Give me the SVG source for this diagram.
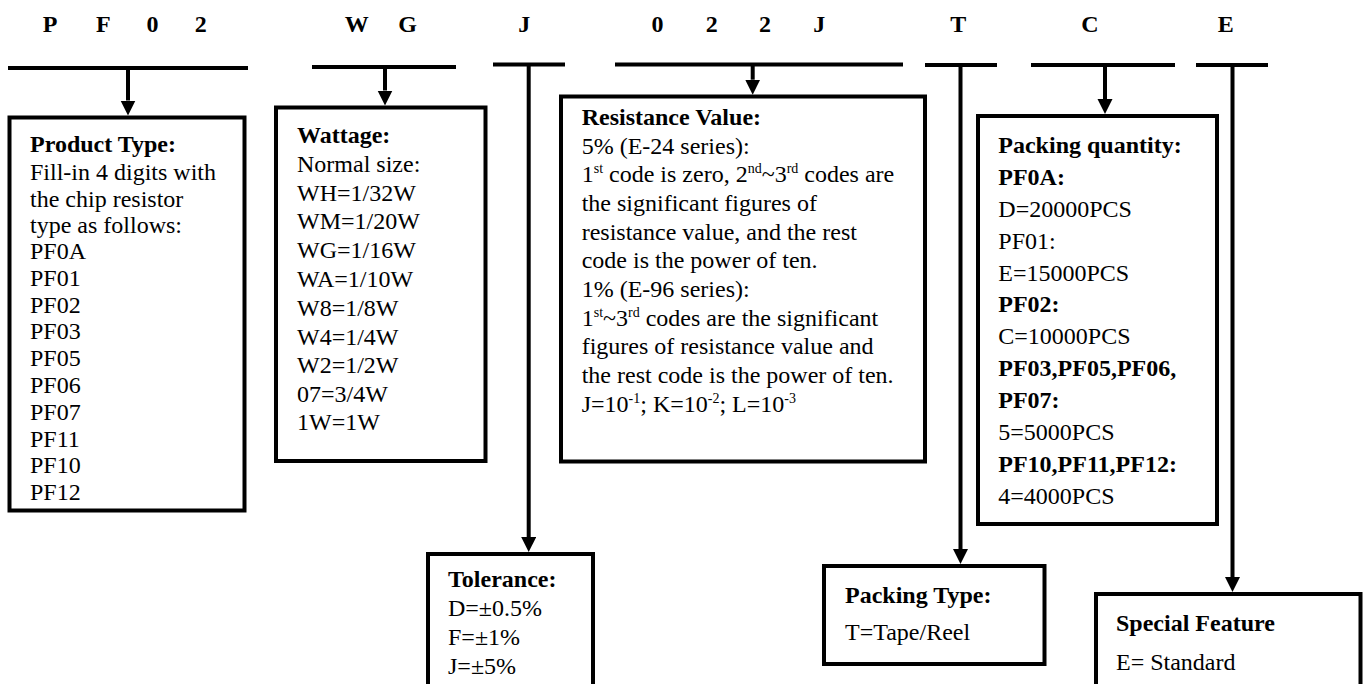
<svg xmlns="http://www.w3.org/2000/svg" width="1365" height="684" viewBox="0 0 1365 684">
<style>
  text { font-family: "Liberation Serif", "Times New Roman", serif; font-size: 24px; fill: #000; }
  .b { font-weight: bold; }
  .hdr { font-weight: bold; text-anchor: middle; }
  .box { fill: #fff; stroke: #000; stroke-width: 4; }
  .bar { stroke: #000; stroke-width: 4; fill: none; }
  .sup { font-size: 14px; }
</style>
<defs>
  <marker id="ah" markerUnits="userSpaceOnUse" markerWidth="16" markerHeight="16" refX="0" refY="7.5" orient="auto">
    <path d="M0,0 L15,7.5 L0,15 z" fill="#000"/>
  </marker>
</defs>
<rect width="1365" height="684" fill="#fff"/>

<g id="header">
  <text class="hdr" x="50" y="31.5">P</text>
  <text class="hdr" x="103.3" y="31.5">F</text>
  <text class="hdr" x="152.5" y="31.5">0</text>
  <text class="hdr" x="200.8" y="31.5">2</text>
  <text class="hdr" x="356.7" y="31.5">W</text>
  <text class="hdr" x="407.5" y="31.5">G</text>
  <text class="hdr" x="524.2" y="31.5">J</text>
  <text class="hdr" x="657.5" y="31.5">0</text>
  <text class="hdr" x="711.7" y="31.5">2</text>
  <text class="hdr" x="765" y="31.5">2</text>
  <text class="hdr" x="819.2" y="31.5">J</text>
  <text class="hdr" x="958.3" y="31.5">T</text>
  <text class="hdr" x="1090" y="31.5">C</text>
  <text class="hdr" x="1225.8" y="31.5">E</text>
</g>

<g id="connectors">
  <line class="bar" x1="8" y1="68" x2="248" y2="68"/>
  <line class="bar" x1="128" y1="68" x2="128" y2="100.5" marker-end="url(#ah)"/>
  <line class="bar" x1="312" y1="67" x2="456" y2="67"/>
  <line class="bar" x1="385" y1="67" x2="385" y2="90.5" marker-end="url(#ah)"/>
  <line class="bar" x1="493" y1="64.5" x2="565" y2="64.5"/>
  <line class="bar" x1="528.7" y1="64.5" x2="528.7" y2="537" marker-end="url(#ah)"/>
  <line class="bar" x1="615" y1="64.5" x2="903" y2="64.5"/>
  <line class="bar" x1="752.7" y1="64.5" x2="752.7" y2="79.7" marker-end="url(#ah)"/>
  <line class="bar" x1="925" y1="65" x2="997" y2="65"/>
  <line class="bar" x1="960.5" y1="65" x2="960.5" y2="549" marker-end="url(#ah)"/>
  <line class="bar" x1="1031" y1="65" x2="1175" y2="65"/>
  <line class="bar" x1="1105" y1="65" x2="1105" y2="99" marker-end="url(#ah)"/>
  <line class="bar" x1="1196" y1="65" x2="1268" y2="65"/>
  <line class="bar" x1="1232.5" y1="65" x2="1232.5" y2="577" marker-end="url(#ah)"/>
</g>

<g id="product-type">
  <rect class="box" x="9.5" y="117.5" width="235" height="393"/>
  <text class="b" x="30" y="152">Product Type:</text>
  <text x="30" y="180">Fill-in 4 digits with</text>
  <text x="30" y="206.7">the chip resistor</text>
  <text x="30" y="232.7">type as follows:</text>
  <text x="30" y="259.3">PF0A</text>
  <text x="30" y="286">PF01</text>
  <text x="30" y="312.7">PF02</text>
  <text x="30" y="339.3">PF03</text>
  <text x="30" y="366">PF05</text>
  <text x="30" y="392.7">PF06</text>
  <text x="30" y="419.5">PF07</text>
  <text x="30" y="446.5">PF11</text>
  <text x="30" y="473">PF10</text>
  <text x="30" y="499.5">PF12</text>
</g>

<g id="wattage">
  <rect class="box" x="276" y="107.5" width="209.5" height="353.5"/>
  <text class="b" x="297" y="143.3">Wattage:</text>
  <text x="297" y="171.7">Normal size:</text>
  <text x="297" y="200.7">WH=1/32W</text>
  <text x="297" y="229.3">WM=1/20W</text>
  <text x="297" y="258.3">WG=1/16W</text>
  <text x="297" y="286.7">WA=1/10W</text>
  <text x="297" y="316">W8=1/8W</text>
  <text x="297" y="345">W4=1/4W</text>
  <text x="297" y="373.3">W2=1/2W</text>
  <text x="297" y="401.7">07=3/4W</text>
  <text x="297" y="430">1W=1W</text>
</g>

<g id="resistance-value">
  <rect class="box" x="561" y="96.5" width="364" height="365"/>
  <text class="b" x="581.7" y="125">Resistance Value:</text>
  <text x="581.7" y="153.7">5% (E-24 series):</text>
  <text x="581.7" y="182.3">1<tspan class="sup" dy="-9">st</tspan><tspan dy="9"> code is zero, 2</tspan><tspan class="sup" dy="-9">nd</tspan><tspan dy="9">~3</tspan><tspan class="sup" dy="-9">rd</tspan><tspan dy="9"> codes are</tspan></text>
  <text x="581.7" y="211">the significant figures of</text>
  <text x="581.7" y="239.6">resistance value, and the rest</text>
  <text x="581.7" y="268.3">code is the power of ten.</text>
  <text x="581.7" y="297">1% (E-96 series):</text>
  <text x="581.7" y="325.6">1<tspan class="sup" dy="-9">st</tspan><tspan dy="9">~3</tspan><tspan class="sup" dy="-9">rd</tspan><tspan dy="9"> codes are the significant</tspan></text>
  <text x="581.7" y="354.3">figures of resistance value and</text>
  <text x="581.7" y="383">the rest code is the power of ten.</text>
  <text x="581.7" y="411.6">J=10<tspan class="sup" dy="-9">-1</tspan><tspan dy="9">; K=10</tspan><tspan class="sup" dy="-9">-2</tspan><tspan dy="9">; L=10</tspan><tspan class="sup" dy="-9">-3</tspan></text>
</g>

<g id="tolerance">
  <rect class="box" x="428" y="554" width="165" height="140"/>
  <text class="b" x="448" y="586.7">Tolerance:</text>
  <text x="448" y="615.5">D=±0.5%</text>
  <text x="448" y="645">F=±1%</text>
  <text x="448" y="673.5">J=±5%</text>
</g>

<g id="packing-quantity">
  <rect class="box" x="978" y="116" width="239" height="408"/>
  <text class="b" x="998.3" y="152.7">Packing quantity:</text>
  <text class="b" x="998.3" y="184.6">PF0A:</text>
  <text x="998.3" y="216.6">D=20000PCS</text>
  <text x="998.3" y="248.5">PF01:</text>
  <text x="998.3" y="280.5">E=15000PCS</text>
  <text class="b" x="998.3" y="312.4">PF02:</text>
  <text x="998.3" y="344.3">C=10000PCS</text>
  <text class="b" x="998.3" y="376.3">PF03,PF05,PF06,</text>
  <text class="b" x="998.3" y="408.2">PF07:</text>
  <text x="998.3" y="440.2">5=5000PCS</text>
  <text class="b" x="998.3" y="472.1">PF10,PF11,PF12:</text>
  <text x="998.3" y="504">4=4000PCS</text>
</g>

<g id="packing-type">
  <rect class="box" x="824" y="566" width="220.5" height="98"/>
  <text class="b" x="845" y="603.3">Packing Type:</text>
  <text x="845" y="640">T=Tape/Reel</text>
</g>

<g id="special-feature">
  <rect class="box" x="1096" y="594" width="264.5" height="100"/>
  <text class="b" x="1116" y="630.7">Special Feature</text>
  <text x="1116" y="670">E= Standard</text>
</g>
</svg>
